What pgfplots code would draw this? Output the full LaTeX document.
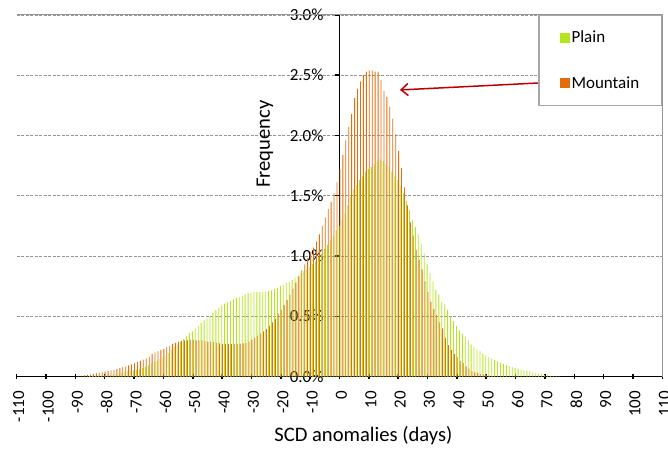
\documentclass[border=0pt]{standalone}
\usepackage{pgfplots}
\pgfplotsset{compat=1.18}
\usepackage{pgfplotstable}
\usepackage{fontspec}
\setmainfont{Carlito}
\usetikzlibrary{arrows.meta}
\definecolor{plaincol}{RGB}{181,230,29}
\definecolor{mountcol}{RGB}{228,108,10}
\definecolor{arrowred}{RGB}{192,0,0}
\definecolor{gridgray}{RGB}{150,150,150}
\pgfplotstableread{
x plain mountain
-89 0 0.005
-88 0 0.008
-87 0 0.010
-86 0 0.013
-85 0.003 0.016
-84 0.005 0.020
-83 0.006 0.025
-82 0.007 0.030
-81 0.008 0.035
-80 0.010 0.040
-79 0.012 0.045
-78 0.014 0.050
-77 0.017 0.055
-76 0.021 0.062
-75 0.025 0.070
-74 0.032 0.078
-73 0.040 0.085
-72 0.044 0.093
-71 0.048 0.100
-70 0.052 0.110
-69 0.056 0.120
-68 0.060 0.130
-67 0.070 0.140
-66 0.080 0.150
-65 0.090 0.165
-64 0.105 0.185
-63 0.120 0.200
-62 0.130 0.210
-61 0.145 0.220
-60 0.160 0.230
-59 0.175 0.245
-58 0.195 0.255
-57 0.220 0.270
-56 0.245 0.280
-55 0.265 0.290
-54 0.290 0.295
-53 0.310 0.300
-52 0.335 0.300
-51 0.360 0.305
-50 0.375 0.305
-49 0.400 0.300
-48 0.420 0.300
-47 0.445 0.300
-46 0.465 0.295
-45 0.480 0.290
-44 0.500 0.290
-43 0.525 0.285
-42 0.550 0.280
-41 0.570 0.275
-40 0.590 0.270
-39 0.605 0.270
-38 0.615 0.270
-37 0.625 0.270
-36 0.640 0.270
-35 0.650 0.270
-34 0.660 0.272
-33 0.670 0.275
-32 0.680 0.280
-31 0.690 0.290
-30 0.695 0.305
-29 0.700 0.320
-28 0.700 0.340
-27 0.700 0.355
-26 0.700 0.375
-25 0.705 0.395
-24 0.710 0.420
-23 0.715 0.450
-22 0.725 0.480
-21 0.735 0.520
-20 0.750 0.555
-19 0.760 0.595
-18 0.775 0.635
-17 0.785 0.680
-16 0.800 0.730
-15 0.820 0.780
-14 0.840 0.830
-13 0.860 0.880
-12 0.875 0.930
-11 0.890 0.980
-10 0.910 1.030
-9 0.935 1.070
-8 0.960 1.120
-7 0.990 1.180
-6 1.020 1.250
-5 1.060 1.320
-4 1.090 1.390
-3 1.130 1.450
-2 1.170 1.520
-1 1.210 1.610
0 1.250 1.720
1 1.300 1.840
2 1.360 1.960
3 1.420 2.070
4 1.490 2.180
5 1.550 2.310
6 1.590 2.390
7 1.630 2.450
8 1.660 2.500
9 1.700 2.530
10 1.720 2.540
11 1.740 2.540
12 1.760 2.530
13 1.780 2.530
14 1.800 2.460
15 1.790 2.370
16 1.760 2.320
17 1.740 2.240
18 1.700 2.140
19 1.660 2.010
20 1.630 1.870
21 1.580 1.730
22 1.520 1.570
23 1.460 1.420
24 1.380 1.280
25 1.300 1.170
26 1.240 1.050
27 1.180 0.970
28 1.100 0.890
29 1.020 0.790
30 0.930 0.700
31 0.860 0.620
32 0.790 0.560
33 0.720 0.510
34 0.680 0.450
35 0.620 0.400
36 0.600 0.320
37 0.550 0.260
38 0.500 0.220
39 0.460 0.185
40 0.420 0.160
41 0.380 0.130
42 0.355 0.110
43 0.330 0.085
44 0.300 0.065
45 0.265 0.045
46 0.245 0.035
47 0.225 0.030
48 0.210 0.022
49 0.190 0.015
50 0.175 0.010
51 0.160 0.007
52 0.150 0.004
53 0.135 0
54 0.125 0
55 0.115 0
56 0.105 0
57 0.095 0
58 0.088 0
59 0.080 0
60 0.072 0
61 0.065 0
62 0.057 0
63 0.052 0
64 0.047 0
65 0.042 0
66 0.035 0
67 0.028 0
68 0.022 0
69 0.017 0
70 0.012 0
71 0.009 0
72 0.006 0
73 0.004 0
74 0.003 0
75 0.002 0
}\datatable
\begin{document}
\begin{tikzpicture}
\begin{axis}[
  scale only axis, width=645.6bp, height=361.5bp,
  xmin=-110, xmax=110, ymin=0, ymax=3,
  clip=false,
  axis x line=bottom, axis y line=center,
  axis line style={-},
  x axis line style={line width=1.6bp, black},
  y axis line style={line width=1.6bp, black},
  hide obscured x ticks=false, hide obscured y ticks=false,
  xtick={-110,-100,...,110},
  ytick={0,0.5,...,3},
  ymajorgrids,
  major grid style={gridgray, line width=0.9bp, dash pattern=on 3bp off 1.5bp},
  tick align=center, major tick length=5bp,
  xtick style={yshift=2.5bp, line width=1.5bp, black},
  ytick style={xshift=-2.5bp, line width=1.5bp, black},
  /pgf/number format/assume math mode=true,
  tick label style={font=\fontsize{17bp}{20bp}\selectfont, black},
  xticklabel style={rotate=90, anchor=east, xshift=-6bp, yshift=-2bp},
  yticklabel style={anchor=east, xshift=-10bp},
  yticklabel={\pgfmathprintnumber[fixed,fixed zerofill,precision=1]{\tick}\%},
  ybar=0pt, bar width=0.85bp,
  legend style={at={(rel axis cs:1,1)}, anchor=north east, draw=gray!70,
    line width=1.2bp, fill=white, font=\fontsize{17bp}{20bp}\selectfont,
    inner xsep=20.5bp, inner ysep=13.5bp, row sep=28.5bp},
  legend cell align=left,
  legend image code/.code={\fill[#1, draw=none] (0bp,-5bp) rectangle (10bp,5bp);},
]
\addplot[fill=plaincol, draw=none] table[x=x,y=plain]{\datatable};
\addlegendentry{Plain}
\addplot[fill=mountcol, draw=none] table[x=x,y=mountain]{\datatable};
\addlegendentry{Mountain}
\draw[gridgray, line width=1bp] (rel axis cs:0,1) -- (rel axis cs:1,1) -- (rel axis cs:1,0);
\draw[arrowred, line width=1.5bp, -{Straight Barb[length=7bp,width=12bp]}] (axis cs:67.97,2.436) -- (axis cs:20.6,2.378);
\node[rotate=90, font=\fontsize{20.6bp}{24bp}\selectfont] at (rel axis cs:0.3846,0.643) {Frequency};
\node[anchor=base, font=\fontsize{20.6bp}{24bp}\selectfont] at (rel axis cs:0.537,-0.181) {SCD anomalies (days)};
\coordinate (SW) at (rel axis cs:0,0);
\end{axis}
\pgfresetboundingbox
\path[use as bounding box] (SW) ++(-16.7bp,-72.5bp) rectangle ++(668bp,449bp);
\end{tikzpicture}
\end{document}
